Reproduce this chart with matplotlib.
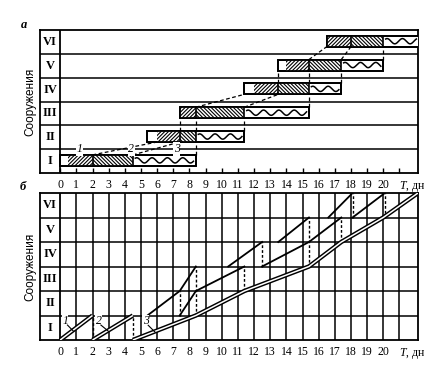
import numpy as np
import matplotlib.pyplot as plt
from matplotlib.patches import Rectangle

plt.rcParams["font.family"] = "Liberation Serif"
plt.rcParams["mathtext.fontset"] = "custom"
plt.rcParams["mathtext.rm"] = "Liberation Serif"
plt.rcParams["mathtext.it"] = "Liberation Serif:italic"
plt.rcParams["hatch.linewidth"] = 0.8

# =========================
# DATA
# =========================
structures = ["I", "II", "III", "IV", "V", "VI"]
day_ticks = list(range(0, 22))
day_labels = [str(d) for d in range(0, 21)] + ["$T$, дн"]
process_names = ["1", "2", "3"]

# top chart (a): one bar per structure
bar_start = [0.0, 5.4, 7.4, 11.4, 13.5, 16.5]
p1_start = [0.5, 6.0, 7.4, 12.0, 14.0, 16.5]
p1_end = [2.0, 7.4, 8.4, 13.5, 15.4, 18.0]
p2_end = [4.5, 8.4, 11.4, 15.4, 17.4, 20.0]
p3_end = [8.4, 11.4, 15.4, 17.4, 20.0, 22.2]

# dashed links: (lower row, day on lower bar, day on upper bar)
links = [
    (0, 2.0, 6.0), (0, 4.5, 7.4), (0, 8.4, 8.4),
    (1, 7.4, 7.4), (1, 8.4, 8.4), (1, 11.4, 11.4),
    (2, 8.4, 11.4), (2, 11.4, 13.5), (2, 15.4, 15.4),
    (3, 13.5, 13.5), (3, 15.4, 15.4), (3, 17.4, 17.4),
    (4, 15.4, 16.5), (4, 17.4, 18.0), (4, 20.0, 20.0),
]
# process labels on the row I / II border of chart (a)
name_days_a = [1.2, 4.4, 7.2]

# bottom chart (b): cyclogram, points are (day, structures done)
double_lines = [
    [(0.0, 0), (2.0, 1)],
    [(2.0, 0), (4.5, 1)],
    [(4.5, 0), (8.4, 1), (11.4, 2), (15.4, 3), (17.4, 4), (20.0, 5), (22.15, 6)],
]
single_lines = [
    [(5.4, 1), (7.4, 2), (8.4, 3)],
    [(10.4, 3), (12.5, 4)],
    [(13.5, 4), (15.4, 5)],
    [(16.6, 5), (18.1, 6)],
    [(7.4, 1), (8.4, 2), (11.4, 3)],
    [(12.5, 3), (15.4, 4), (17.4, 5)],
    [(18.1, 5), (20.1, 6)],
]
dashed_days = [2.0, 4.5, 7.4, 8.4, 11.4, 12.5, 15.4, 17.4, 18.1, 20.1]
dashed_low = [0, 0, 1, 1, 2, 3, 3, 4, 5, 5]
dashed_high = [1, 1, 2, 3, 3, 4, 5, 5, 6, 6]
# process labels in chart (b): label point, leader end
name_pos_b = [(0.3, 0.78), (2.37, 0.78), (5.3, 0.77)]
leader_end_b = [(0.82, 0.36), (2.98, 0.36), (5.86, 0.33)]

# =========================
# LAYOUT
# =========================
XMIN, XMAX = -1.25, 22.15
BAR_LO, BAR_HI = 0.30, 0.76

fig = plt.figure(figsize=(4.37, 3.70), dpi=100)
ax_a = fig.add_axes([40 / 437, 1 - 173 / 370, 378 / 437, 143 / 370])
ax_b = fig.add_axes([40 / 437, 1 - 340 / 370, 378 / 437, 147 / 370])

for ax in (ax_a, ax_b):
    ax.set_xlim(XMIN, XMAX)
    ax.set_ylim(0, 6)
    ax.set_yticks([])
    ax.set_xticks(day_ticks)
    ax.set_xticklabels(day_labels)
    for s in ax.spines.values():
        s.set_linewidth(1.3)
    for r in range(1, 6):
        ax.axhline(r, color="black", lw=1.1, zorder=1)
    ax.axvline(0, color="black", lw=1.3, zorder=1)
    for i, name in enumerate(structures):
        ax.text(-0.63, i + 0.5, name, ha="center", va="center",
                fontsize=9, fontweight="bold")
    ax.text(-0.026, 0.5, "Сооружения", transform=ax.transAxes, rotation=90,
            ha="center", va="center", fontsize=8.5, family="Liberation Sans")
    ax.get_xticklabels()[-1].set_ha("left")

ax_a.tick_params(axis="x", direction="in", length=3.5, width=1, pad=4, labelsize=8.5)
ax_b.tick_params(axis="x", length=0, pad=4, labelsize=8.5)

# =========================
# CHART a - bars
# =========================
h = BAR_HI - BAR_LO
for i in range(len(structures)):
    y0 = i + BAR_LO
    ax_a.add_patch(Rectangle((bar_start[i], y0), p3_end[i] - bar_start[i], h,
                             facecolor="white", edgecolor="black", lw=1.3, zorder=3))
    ax_a.add_patch(Rectangle((p1_start[i], y0), p1_end[i] - p1_start[i], h,
                             facecolor="white", edgecolor="black", lw=0,
                             hatch="/" * 9, zorder=3))
    ax_a.add_patch(Rectangle((p1_end[i], y0), p2_end[i] - p1_end[i], h,
                             facecolor="white", edgecolor="black", lw=0,
                             hatch="\\" * 9, zorder=3))
    ax_a.add_patch(Rectangle((bar_start[i], y0), p3_end[i] - bar_start[i], h,
                             facecolor="none", edgecolor="black", lw=1.3, zorder=4))
    ax_a.plot([p1_end[i], p1_end[i]], [y0, y0 + h], color="black", lw=1.2, zorder=4)
    ax_a.plot([p2_end[i], p2_end[i]], [y0, y0 + h], color="black", lw=1.2, zorder=4)
    # wavy fill of process 3
    xw = np.linspace(p2_end[i] + 0.15, p3_end[i] - 0.15, 200)
    yw = i + (BAR_LO + BAR_HI) / 2 + 0.11 * np.sin(2 * np.pi * (xw - p2_end[i]) / 0.95)
    ax_a.plot(xw, yw, color="black", lw=1.1, zorder=4)

for row, x_low, x_high in links:
    ax_a.plot([x_low, x_high], [row + BAR_HI, row + 1 + BAR_LO],
              color="black", lw=0.9, ls=(0, (3, 2)), zorder=2)

for name, d in zip(process_names, name_days_a):
    ax_a.text(d, 1.0, name, ha="center", va="center", fontsize=8.5, style="italic",
              bbox=dict(facecolor="white", edgecolor="none", pad=0.6), zorder=5)

# =========================
# CHART b - cyclogram
# =========================
for d in range(1, 22):
    ax_b.axvline(d, color="black", lw=1.1, zorder=1)

for line in double_lines:
    xs, ys = zip(*line)
    ax_b.plot(xs, ys, color="black", lw=3.2, solid_capstyle="butt", zorder=3)
    ax_b.plot(xs, ys, color="white", lw=1.1, solid_capstyle="butt", zorder=4)

for line in single_lines:
    xs, ys = zip(*line)
    ax_b.plot(xs, ys, color="black", lw=1.3, zorder=3)

for d, lo, hi in zip(dashed_days, dashed_low, dashed_high):
    ax_b.plot([d, d], [lo, hi], color="black", lw=1.0, ls=(0, (2, 1.5)), zorder=2)

for name, (tx, ty), (ex, ey) in zip(process_names, name_pos_b, leader_end_b):
    ax_b.text(tx, ty, name, ha="center", va="center", fontsize=8.5, style="italic",
              bbox=dict(facecolor="white", edgecolor="none", pad=0.3), zorder=5)
    ax_b.plot([tx + 0.15, ex], [ty - 0.17, ey], color="black", lw=0.8, zorder=5)

# panel letters
fig.text(24 / 437, 1 - 25 / 370, "а", ha="center", va="center",
         fontsize=9, style="italic", fontweight="bold")
fig.text(23 / 437, 1 - 187 / 370, "б", ha="center", va="center",
         fontsize=9, style="italic", fontweight="bold")

fig.savefig("out.png", dpi=100)
